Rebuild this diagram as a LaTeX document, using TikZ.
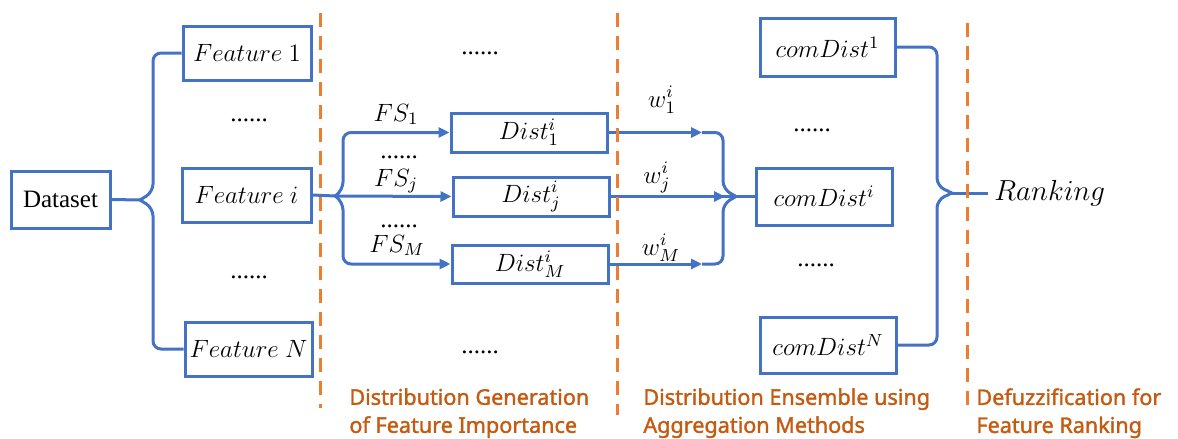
\RequirePackage{fix-cm}
\documentclass[tikz,border=0pt]{standalone}
\usepackage{fontspec}
\setmainfont{Liberation Serif}
\newfontfamily\labelfont{Noto Sans}[FakeBold=1.6]
\usetikzlibrary{arrows.meta}
\definecolor{cblue}{HTML}{4472C4}
\definecolor{corange}{HTML}{ED7D31}
\definecolor{ctext}{HTML}{C55A11}
\tikzset{
  >={Triangle[length=5.5pt,width=5pt]},
  box/.style={draw=cblue,line width=1.5pt,inner sep=0pt,font=\fontsize{12.5}{15}\selectfont},
  lnk/.style={cblue,line width=1.5pt},
  divider/.style={corange,line width=1.5pt,dash pattern=on 7pt off 4.5pt},
  stage/.style={ctext,font=\labelfont\fontsize{10.8}{14}\selectfont,align=left,anchor=north west,inner sep=0pt},
  lbl/.style={font=\fontsize{12.5}{15}\selectfont,inner sep=0pt},
}

\begin{document}
\begin{tikzpicture}[x=0.5pt,y=-0.5pt]
\useasboundingbox (0,0) rectangle (1178,439);

% ---- boxes ----
\node[box,minimum width=49.5pt,minimum height=28.5pt] (dataset) at (60.5,199.5) {Dataset};
\node[box,minimum width=64pt,minimum height=27pt] (feat1) at (247,53) {$Feature\ 1$};
\node[box,minimum width=64.5pt,minimum height=27pt] (feati) at (246.5,195) {$Feature\ i$};
\node[box,minimum width=63.5pt,minimum height=27pt] (featN) at (248.5,349) {$Feature\ N$};
\node[box,minimum width=78pt,minimum height=19.5pt] (dist1) at (529,132.5) {$Dist_1^i$};
\node[box,minimum width=78pt,minimum height=19.5pt] (distj) at (531,196.5) {$Dist_j^i$};
\node[box,minimum width=78pt,minimum height=19pt] (distM) at (530,264) {$Dist_M^i$};
\node[box,minimum width=67.5pt,minimum height=29pt] (com1) at (827.5,47) {$comDist^1$};
\node[box,minimum width=68pt,minimum height=28.5pt] (comi) at (824,196.5) {$comDist^i$};
\node[box,minimum width=68pt,minimum height=28pt] (comN) at (828,345) {$comDist^N$};
\node[anchor=west,inner sep=3pt,font=\fontsize{14.5}{17}\selectfont] (rank) at (988,193) {$Ranking$};

% ---- dots ----
\node[lbl] (d1) at (249,120) {......};
\node[lbl] (d2) at (249,277) {......};
\node[lbl] (d3) at (480,53) {......};
\node[lbl] (d4) at (480,352) {......};
\node[lbl] (d5) at (399,157) {......};
\node[lbl] (d6) at (399,226) {......};
\node[lbl] (d7) at (812,130) {......};
\node[lbl] (d8) at (816,265) {......};

% ---- edge labels ----
\node[lbl,anchor=base] (fs1) at (396,121) {$FS_1$};
\node[lbl,anchor=base] (fsj) at (396,186) {$FS_j$};
\node[lbl,anchor=base] (fsM) at (397,252) {$FS_M$};
\node[lbl,anchor=base] (w1) at (662,107) {$w_1^i$};
\node[lbl,anchor=base] (wj) at (657,183) {$w_j^i$};
\node[lbl,anchor=base] (wM) at (661,255) {$w_M^i$};

% ---- dataset -> features ----
\coordinate (lb) at (140,200);
\draw[lnk] (dataset.east) -- (lb);
\draw[lnk,rounded corners=4pt] (lb) -- (153,192) |- (feat1.west);
\draw[lnk,rounded corners=4pt] (lb) -- (153,208) |- (featN.west);

% ---- feature i -> distributions ----
\coordinate (fb) at (335,196);
\draw[lnk] (feati.east) -- (fb);
\draw[lnk,->,rounded corners=4pt] (fb) -- (343,190) |- (dist1.west);
\draw[lnk,->] (fb) -- (distj.west);
\draw[lnk,->,rounded corners=4pt] (fb) -- (343,202) |- (distM.west);

% ---- distributions -> comDist i ----
\coordinate (a1) at (702,132.5);
\coordinate (aj) at (725,196.5);
\coordinate (aM) at (702,264);
\coordinate (mb) at (736,196.5);
\draw[lnk,rounded corners=4pt] (a1) -| (723,189) -- (mb);
\draw[lnk,rounded corners=4pt] (aM) -| (723,204) -- (mb);
\draw[lnk] (distj.east) -- (comi.west);
\draw[lnk,->] (dist1.east) -- (a1);
\draw[lnk,->] (distj.east) -- (aj);
\draw[lnk,->] (distM.east) -- (aM);

% ---- comDist -> ranking ----
\coordinate (rb) at (952,193);
\draw[lnk,rounded corners=4pt] (com1.east) -| (937,186) -- (rb);
\draw[lnk,rounded corners=4pt] (comN.east) -| (937,200) -- (rb);
\draw[lnk] (rb) -- (rank.west);

% ---- stage dividers ----
\draw[divider] (320,13) -- (320,408);
\draw[divider] (617,13) -- (617,415);
\draw[divider] (967,23) -- (967,410);

\node[stage] (st1) at (349,388) {Distribution Generation\\of Feature Importance};
\node[stage] (st2) at (643,388) {Distribution Ensemble using\\Aggregation Methods};
\node[stage] (st3) at (976,388) {Defuzzification for\\Feature Ranking};

\end{tikzpicture}
\end{document}
